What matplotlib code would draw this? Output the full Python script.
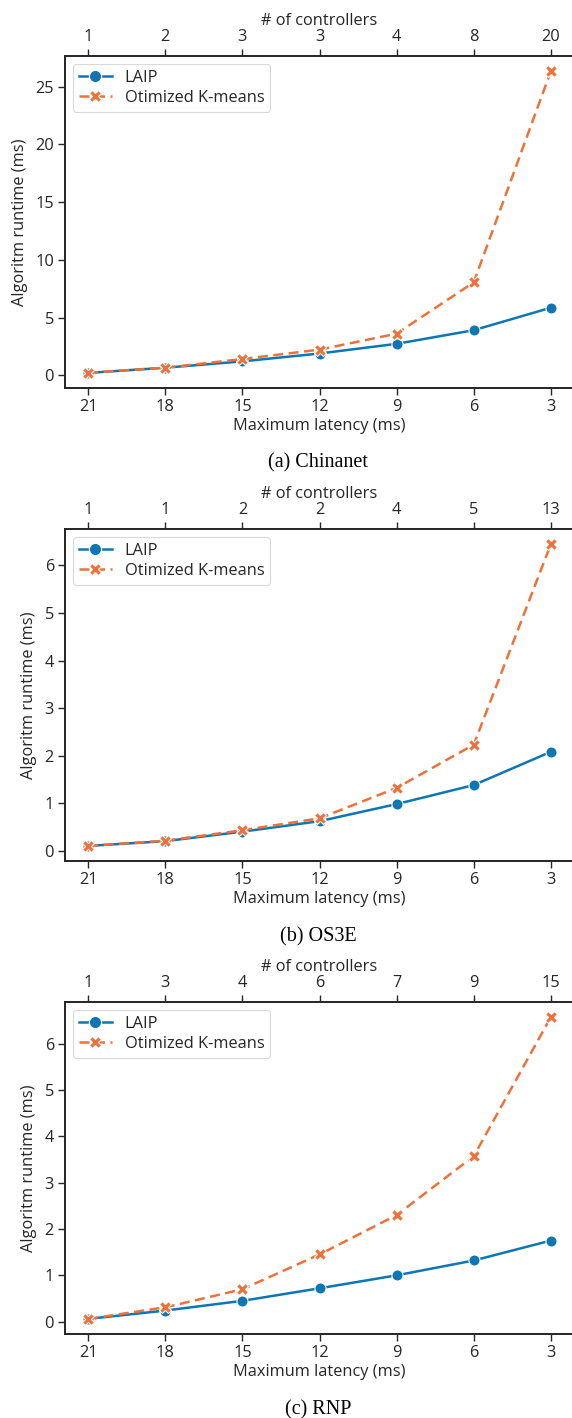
import numpy as np
import matplotlib
matplotlib.use('Agg')
import matplotlib.pyplot as plt

# ── Data ──
latency = [21, 18, 15, 12, 9, 6, 3]

chinanet_ctrl = [1, 2, 3, 3, 4, 8, 20]
chinanet_laip = [0.2, 0.65, 1.2, 1.88, 2.72, 3.9, 5.85]
chinanet_kmeans = [0.22, 0.65, 1.4, 2.22, 3.6, 8.05, 26.35]

os3e_ctrl = [1, 1, 2, 2, 4, 5, 13]
os3e_laip = [0.1, 0.2, 0.4, 0.62, 0.98, 1.38, 2.08]
os3e_kmeans = [0.1, 0.21, 0.43, 0.68, 1.32, 2.23, 6.45]

rnp_ctrl = [1, 3, 4, 6, 7, 9, 15]
rnp_laip = [0.06, 0.24, 0.45, 0.72, 1.0, 1.32, 1.75]
rnp_kmeans = [0.06, 0.31, 0.7, 1.45, 2.3, 3.57, 6.57]

panels = [
    ('(a) Chinanet', chinanet_ctrl, chinanet_laip, chinanet_kmeans, [0, 5, 10, 15, 20, 25]),
    ('(b) OS3E', os3e_ctrl, os3e_laip, os3e_kmeans, [0, 1, 2, 3, 4, 5, 6]),
    ('(c) RNP', rnp_ctrl, rnp_laip, rnp_kmeans, [0, 1, 2, 3, 4, 5, 6]),
]

BLUE = '#0e76b3'
ORANGE = '#f0703a'
DARK = '#262626'

plt.rcParams['font.family'] = ['Open Sans', 'DejaVu Sans']
plt.rcParams['font.size'] = 11.8
plt.rcParams['axes.edgecolor'] = DARK
plt.rcParams['axes.linewidth'] = 1.25
plt.rcParams['xtick.color'] = DARK
plt.rcParams['ytick.color'] = DARK
plt.rcParams['text.color'] = DARK
plt.rcParams['axes.labelcolor'] = DARK

fig = plt.figure(figsize=(5.72, 14.18), dpi=100)

left = 65 / 572
width = (574 - 65) / 572
bottoms_px = [388, 861, 1334]
height = 332 / 1418
caption_y_px = [463, 937, 1410]

x = np.arange(len(latency))

for (caption, ctrl, laip, km, yticks), bpx, cpx in zip(panels, bottoms_px, caption_y_px):
    ax = fig.add_axes([left, 1 - bpx / 1418, width, height])
    ax.plot(x, laip, color=BLUE, lw=1.8, marker='o', ms=8,
            mec='white', mew=0.8, label='LAIP', zorder=3)
    ax.plot(x, km, color=ORANGE, lw=1.8, ls=(0, (4, 2.2)), marker='X', ms=8,
            mec='white', mew=0.8, label='Otimized K-means', zorder=4)
    ax.set_xlim(-0.3, 6.3)
    ax.set_xticks(x)
    ax.set_xticklabels([str(v) for v in latency])
    ax.set_yticks(yticks)
    ax.set_xlabel('Maximum latency (ms)', labelpad=2)
    ax.set_ylabel('Algoritm runtime (ms)', labelpad=5)
    ax.tick_params(direction='out', length=5, width=1.0, pad=3)
    ax.spines['right'].set_visible(False)

    top = ax.twiny()
    top.set_xlim(ax.get_xlim())
    top.set_xticks(x)
    top.set_xticklabels([str(v) for v in ctrl])
    top.set_xlabel('# of controllers', labelpad=3)
    top.tick_params(direction='out', length=5, width=1.0, pad=3)
    top.spines['right'].set_visible(False)

    leg = ax.legend(loc='upper left', frameon=True, fancybox=True,
                    handlelength=2.0, borderpad=0.35, labelspacing=0.25,
                    markerscale=1.1)
    leg.get_frame().set_edgecolor('#d0d0d0')
    leg.get_frame().set_linewidth(0.8)

    fig.text(318 / 572, 1 - cpx / 1418, caption, ha='center', va='center',
             fontsize=14.5, family='Liberation Serif', color='black')

fig.savefig('out.png', dpi=100)
